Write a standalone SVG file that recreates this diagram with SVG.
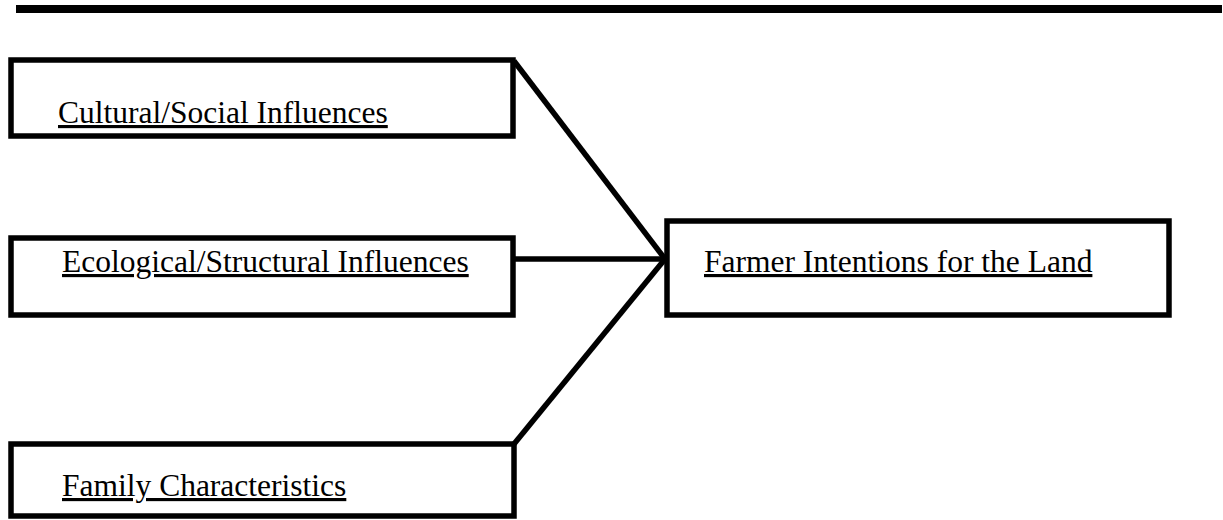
<svg xmlns="http://www.w3.org/2000/svg" width="1223" height="520" viewBox="0 0 1223 520">
<style>
.box{fill:#fff;stroke:#000;stroke-width:5.5}
.lbl{font-family:"Liberation Serif","Times New Roman",serif;font-size:31.5px;fill:#000;text-decoration:underline}
.conn{stroke:#000;stroke-width:5.5;fill:none;stroke-linecap:butt}
</style>
<rect width="1223" height="520" fill="#fff"/>
<line x1="16" y1="9" x2="1222" y2="9" stroke="#000" stroke-width="8"/>
<g id="connectors">
<line class="conn" x1="514" y1="61" x2="665" y2="259"/>
<line class="conn" x1="514" y1="259" x2="665" y2="259"/>
<line class="conn" x1="514" y1="444" x2="665" y2="259"/>
</g>
<g id="cultural">
<rect class="box" x="11" y="60" width="502" height="76"/>
<text class="lbl" x="58" y="123">Cultural/Social Influences</text>
</g>
<g id="ecological">
<rect class="box" x="11" y="238" width="502" height="77"/>
<text class="lbl" x="62" y="272">Ecological/Structural Influences</text>
</g>
<g id="family">
<rect class="box" x="11" y="444" width="503" height="72"/>
<text class="lbl" x="62" y="496">Family Characteristics</text>
</g>
<g id="farmer">
<rect class="box" x="667" y="221" width="502" height="94"/>
<text class="lbl" x="704" y="272">Farmer Intentions for the Land</text>
</g>
</svg>
